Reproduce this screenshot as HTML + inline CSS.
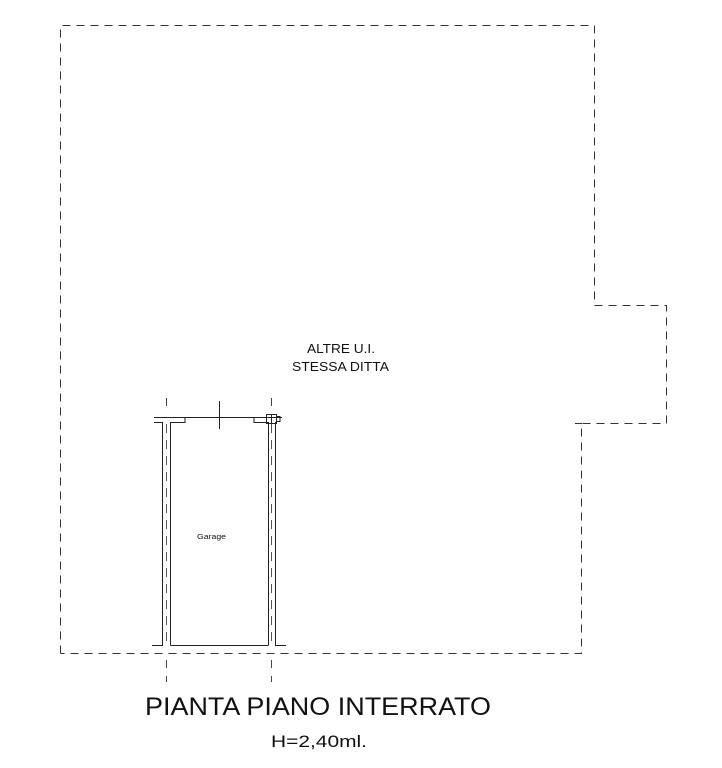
<!DOCTYPE html>
<html><head><style>
html,body{margin:0;padding:0;background:#fff;}
svg{display:block;}
text{font-family:"Liberation Sans",Arial,sans-serif;fill:#111;}
</style></head><body>
<svg width="722" height="768" viewBox="0 0 722 768" xmlns="http://www.w3.org/2000/svg">
<g fill="none" stroke="#333" stroke-width="1" stroke-dasharray="8,6">
<polyline points="60.5,653.5 60.5,25.5 594.5,25.5 594.5,305.5 666.5,305.5 666.5,423.5 581.5,423.5 581.5,653.5 60.5,653.5"/>
</g>
<path d="M575,423.5 H582" stroke="#333"/>
<g stroke="#222" stroke-width="1" fill="none">
<path d="M154,417.5 H282"/>
<path d="M219.5,401 V429"/>
<path d="M162.5,422 V645.5 H152"/>
<path d="M162.5,422.5 H154"/>
<path d="M170.5,645.5 V422.5 H185 V417.5"/>
<path d="M170.5,645.5 H268.5"/>
<path d="M268.5,645.5 V422.5 H254 V417.5"/>
<path d="M275.5,422 V645.5 H286"/>
<rect x="266.5" y="414.5" width="10" height="9"/>
<path d="M271.5,414.5 V423.5 M276.5,416.5 H280 V421.5 H276.5"/>
</g>
<g stroke="#555" stroke-width="1" stroke-dasharray="9,7">
<path d="M166.5,424 V645"/>
<path d="M271.5,424 V645"/>
</g>
<g stroke="#444" stroke-width="1" stroke-dasharray="8,8">
<path d="M166.5,660 V682"/>
<path d="M271.5,660 V682"/>
<path d="M166.5,398 V408"/>
<path d="M271.5,398 V408"/>
</g>
<text x="307" y="353" font-size="12.5" textLength="68" lengthAdjust="spacingAndGlyphs">ALTRE U.I.</text>
<text x="292" y="371" font-size="12.5" textLength="97" lengthAdjust="spacingAndGlyphs">STESSA DITTA</text>
<text x="197" y="539" font-size="7" textLength="29" lengthAdjust="spacingAndGlyphs">Garage</text>
<text x="145" y="715" font-size="25" textLength="346" lengthAdjust="spacingAndGlyphs">PIANTA PIANO INTERRATO</text>
<text x="271" y="747" font-size="17" textLength="96" lengthAdjust="spacingAndGlyphs">H=2,40ml.</text>
</svg>
</body></html>
